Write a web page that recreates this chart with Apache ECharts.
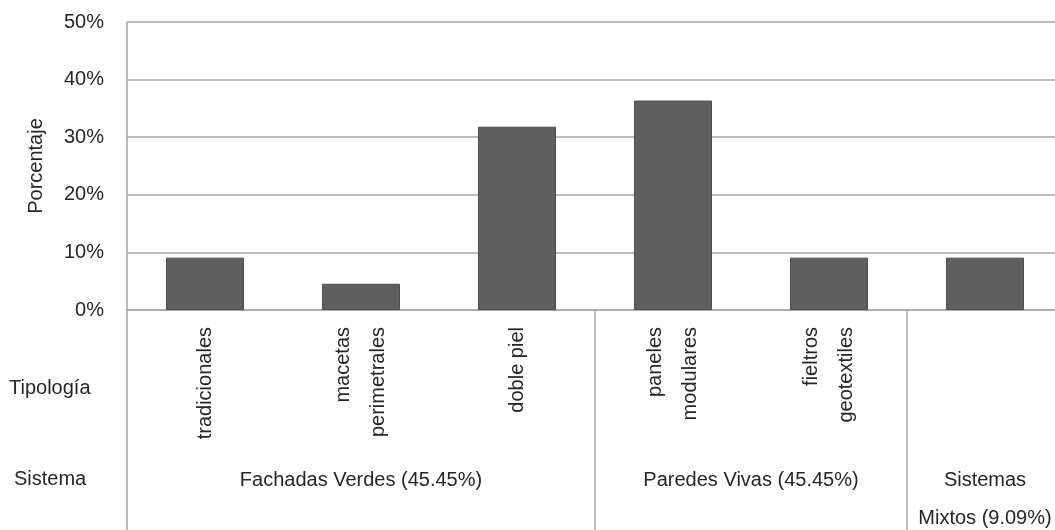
<!DOCTYPE html>
<html>
<head>
<meta charset="utf-8">
<script src="https://cdn.jsdelivr.net/npm/echarts@6/dist/echarts.min.js"></script>
<style>
html,body{margin:0;padding:0;background:#fff;}
#wrap{width:1055px;height:530px;overflow:hidden;position:relative;}
#chart{width:1063px;height:530px;position:absolute;left:0;top:0;}
</style>
</head>
<body>
<div id="wrap"><div id="chart"></div></div>
<script>
const categories = ['tradicionales', 'macetas\nperimetrales', 'doble piel', 'paneles\nmodulares', 'fieltros\ngeotextiles', ''];
const values = [9.09, 4.55, 31.82, 36.36, 9.09, 9.09];
const groupLabels = ['Fachadas Verdes (45.45%)', 'Paredes Vivas (45.45%)', 'Sistemas\nMixtos (9.09%)'];
const groupSizes = [3, 2, 1];
const groupStarts = [0, 3, 5];
const yTicks = [0, 10, 20, 30, 40, 50];
const yAxisName = 'Porcentaje';
const rowNames = ['Tipología', 'Sistema'];

const FONT = '"Liberation Sans", Arial, sans-serif';
const TXT = '#262626';
const LINE = '#a6a6a6';

const groupCenters = groupStarts.map((s, i) => s + groupSizes[i] / 2);

const chart = echarts.init(document.getElementById('chart'));
chart.setOption({
  animation: false,
  backgroundColor: '#fff',
  grid: { left: 127, right: 0, top: 22, bottom: 220, containLabel: false, outerBoundsMode: 'none' },
  xAxis: [
    {
      type: 'category',
      data: categories,
      boundaryGap: true,
      axisLine: { show: true, lineStyle: { color: LINE, width: 1.5 } },
      axisTick: {
        show: true,
        length: 220,
        interval: function (index) { return groupStarts.indexOf(index) >= 0; },
        lineStyle: { color: LINE, width: 1.5 }
      },
      axisLabel: {
        interval: 0,
        rotate: 90,
        margin: 17,
        fontFamily: FONT,
        fontSize: 20,
        color: TXT,
        lineHeight: 35
      }
    },
    {
      type: 'value',
      position: 'bottom',
      min: 0,
      max: 6,
      interval: 0.5,
      offset: 151,
      axisLine: { show: false },
      axisTick: { show: false },
      splitLine: { show: false },
      axisLabel: {
        margin: 0,
        fontFamily: FONT,
        fontSize: 20,
        color: TXT,
        lineHeight: 38,
        showMinLabel: true,
        showMaxLabel: true,
        formatter: function (v) {
          const i = groupCenters.findIndex(c => Math.abs(c - v) < 1e-6);
          return i >= 0 ? groupLabels[i] : '';
        }
      }
    }
  ],
  yAxis: {
    type: 'value',
    min: yTicks[0],
    max: yTicks[yTicks.length - 1],
    interval: 10,
    name: yAxisName,
    nameLocation: 'middle',
    nameGap: 81,
    nameTextStyle: { fontFamily: FONT, fontSize: 20, color: TXT },
    axisLine: { show: true, lineStyle: { color: LINE, width: 1.5 } },
    axisTick: { show: false },
    axisLabel: {
      fontFamily: FONT, fontSize: 20, color: TXT, margin: 23,
      formatter: '{value}%'
    },
    splitLine: { show: true, lineStyle: { color: LINE, width: 1.5 } }
  },
  series: [{
    type: 'bar',
    data: values,
    barWidth: '50%',
    itemStyle: { color: '#5f5f5f', borderColor: '#4d4d4d', borderWidth: 1 }
  }],
  graphic: [
    { type: 'text', left: 9, top: 378, style: { text: rowNames[0], fontFamily: FONT, fontSize: 20, fill: TXT } },
    { type: 'text', left: 14, top: 469, style: { text: rowNames[1], fontFamily: FONT, fontSize: 20, fill: TXT } }
  ]
});
</script>
</body>
</html>
